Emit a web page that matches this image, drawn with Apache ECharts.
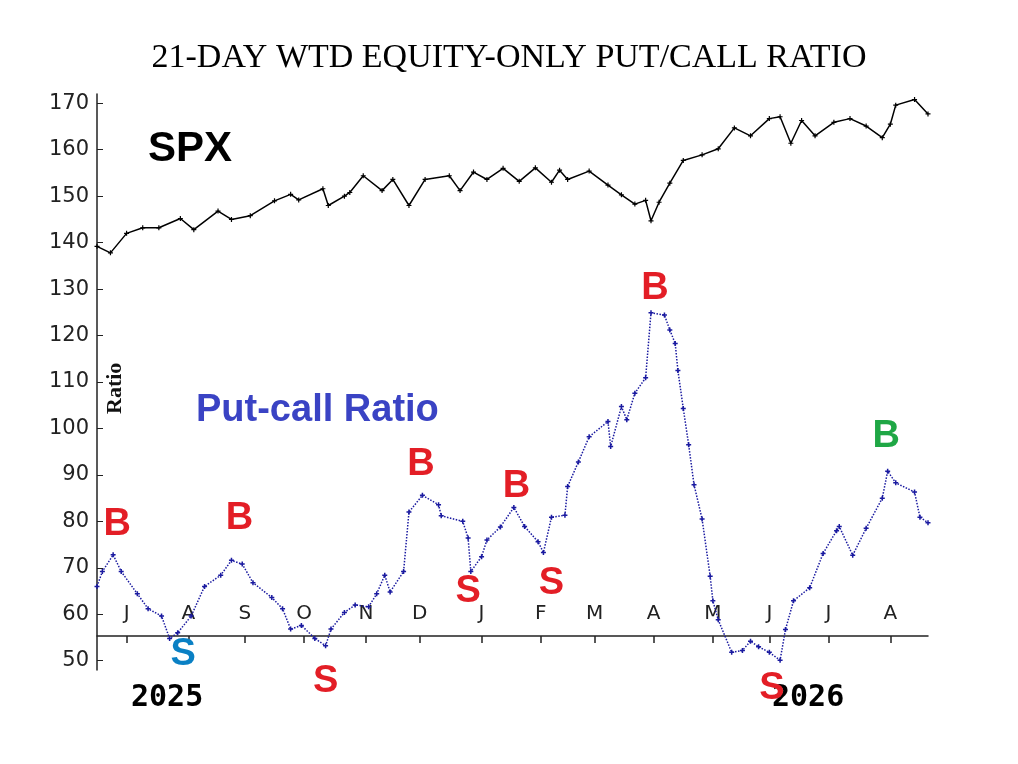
<!DOCTYPE html>
<html><head><meta charset="utf-8">
<script src="https://cdn.jsdelivr.net/npm/echarts@6/dist/echarts.min.js"></script>
<style>html,body{margin:0;padding:0;background:#fff}#c{width:1018px;height:764px}</style>
</head><body><div id="c"></div>
<script>
// trading-day index (0 = 2025-06-16 ... 309 = 2026-08-21)
const spxDay = [0,5,11,17,23,31,36,45,50,57,66,72,75,84,86,92,94,99,106,110,116,122,131,135,140,145,151,157,163,169,172,175,183,190,195,200,204,206,209,213,218,225,231,237,243,250,254,258,262,267,274,280,286,292,295,297,304,309];
const spxVal = [139.2,137.8,142,143.2,143.2,145.2,142.8,146.8,145,145.8,149,150.4,149.2,151.6,148,150,150.8,154.4,151.2,153.6,148,153.6,154.4,151.2,155.2,153.6,156,153.2,156.1,153,155.6,153.6,155.4,152.4,150.3,148.3,149.1,144.7,148.7,152.8,157.7,158.9,160.2,164.7,163,166.7,167.1,161.4,166.3,163,165.9,166.7,165.1,162.6,165.5,169.6,170.8,167.7];
const pcrDay = [0,2,6,9,15,19,24,27,30,35,40,46,50,54,58,65,69,72,76,81,85,87,92,96,101,104,107,109,114,116,121,127,128,136,138,139,143,145,150,155,159,164,166,169,174,175,179,183,190,191,195,197,200,204,206,211,213,215,216,218,220,222,225,228,229,231,236,240,243,246,250,254,256,259,265,270,275,276,281,286,292,294,297,304,306,309];
const pcrVal = [66,69.2,72.8,69.2,64.4,61.2,59.6,54.8,56,59.6,66,68.4,71.6,70.8,66.8,63.6,61.2,56.8,57.6,54.8,53.2,56.8,60.4,62,61.6,64.4,68.4,64.8,69.2,82,85.6,83.6,81.2,80,76.4,69.2,72.4,76,78.8,83,78.9,75.6,73.3,80.9,81.3,87.5,92.8,98.2,101.5,96.1,104.7,101.9,107.6,110.9,124.9,124.4,121.2,118.3,112.5,104.3,96.5,87.9,80.5,68.2,62.9,58.8,51.8,52.2,54.2,53,51.8,50.1,56.7,62.9,65.7,73.1,78,78.9,72.7,78.5,85,90.8,88.3,86.3,80.9,79.7];
const sigDay = [7.5,32,53,85,120.5,138,156,169,207.5,251,293.5];
const sigVal = [79.4,51.3,80.7,45.5,92.3,65,87.4,66.6,130.2,44.1,98.3];
const sigText = ['B','S','B','S','B','S','B','S','B','S','B'];
const sigColor = ['#e31e26','#0a80c4','#e31e26','#e31e26','#e31e26','#e31e26','#e31e26','#e31e26','#e31e26','#e31e26','#1fa745'];
const yTicks = [50,60,70,80,90,100,110,120,130,140,150,160,170];
const monthLetters = ['J','F','M','A','M','J','J','A','S','O','N','D'];

// trading-day calendar (weekdays)
const days = [];
for (let d = new Date(Date.UTC(2025,5,16)); d <= new Date(Date.UTC(2026,7,21)); d.setUTCDate(d.getUTCDate()+1)) {
  const w = d.getUTCDay(); if (w===0||w===6) continue;
  days.push(d.toISOString().slice(0,10));
}
const monthStart = days.map((s,i)=> i>0 && s.slice(5,7)!==days[i-1].slice(5,7));

const cross = 'path://M0,5L10,5M5,0L5,10';
const chart = echarts.init(document.getElementById('c'));
chart.setOption({
  animation:false,
  title:{text:'21-DAY WTD EQUITY-ONLY PUT/CALL RATIO',left:'center',top:36,
    textStyle:{fontFamily:'Liberation Serif',fontSize:34,fontWeight:'normal',color:'#000'}},
  grid:[{left:97,right:90,top:94,bottom:94},{left:97,right:90,top:94,bottom:128}],
  xAxis:[
    {type:'value',gridIndex:0,min:0,max:days.length-1,show:false},
    {type:'category',gridIndex:1,data:days,boundaryGap:false,
     axisLine:{lineStyle:{color:'#222',width:1.5}},
     axisTick:{inside:false,length:7,lineStyle:{color:'#222',width:1.5},interval:(i)=>monthStart[i]},
     axisLabel:{inside:true,margin:12,interval:(i)=>monthStart[i],color:'#222',fontFamily:'DejaVu Sans',fontSize:20,fontWeight:'normal',
       formatter:(v)=>monthLetters[+v.slice(5,7)-1]}}
  ],
  yAxis:[
    {type:'value',gridIndex:0,min:48,max:172,
     axisLine:{show:true,lineStyle:{color:'#222',width:1.5}},
     axisTick:{show:true,inside:true,length:6,lineStyle:{color:'#222'},customValues:yTicks},
     splitLine:{show:false},
     axisLabel:{color:'#222',fontFamily:'DejaVu Sans',fontWeight:'normal',fontSize:21,margin:8,customValues:yTicks}},
    {type:'value',gridIndex:1,show:false}
  ],
  graphic:[
    {type:'text',left:148,top:128,style:{text:'SPX',font:'bold 42px "Liberation Sans"',fill:'#000'}},
    {type:'text',left:196,top:392,style:{text:'Put-call Ratio',font:'bold 38px "Liberation Sans"',fill:'#3a43c4'}},
    {type:'text',x:104,y:414,rotation:Math.PI/2,style:{text:'Ratio',font:'bold 22px "Liberation Serif"',fill:'#111'}},
    {type:'text',left:131,top:683,style:{text:'2025',font:'bold 30px "DejaVu Sans Mono"',fill:'#000'}},
    {type:'text',left:772,top:683,style:{text:'2026',font:'bold 30px "DejaVu Sans Mono"',fill:'#000'}}
  ],
  series:[
    {type:'line',xAxisIndex:0,yAxisIndex:0,data:spxDay.map((d,i)=>[d,spxVal[i]]),
     symbol:cross,symbolSize:5,itemStyle:{color:'#000',borderColor:'#000',borderWidth:1.2},lineStyle:{color:'#000',width:1.5}},
    {type:'line',xAxisIndex:0,yAxisIndex:0,data:pcrDay.map((d,i)=>[d,pcrVal[i]]),
     symbol:cross,symbolSize:5,itemStyle:{color:'#1a1aa0',borderColor:'#1a1aa0',borderWidth:1.5},lineStyle:{color:'#1a1aa0',width:1.5,type:'dotted'}},
    {type:'scatter',xAxisIndex:0,yAxisIndex:0,clip:false,symbolSize:0,itemStyle:{opacity:1},
     data:sigDay.map((d,i)=>({value:[d,sigVal[i]],label:{show:true,position:'inside',formatter:sigText[i],color:sigColor[i],opacity:1,
       fontFamily:'Liberation Sans',fontWeight:'bold',fontSize:38}}))}
  ]
});
</script></body></html>
